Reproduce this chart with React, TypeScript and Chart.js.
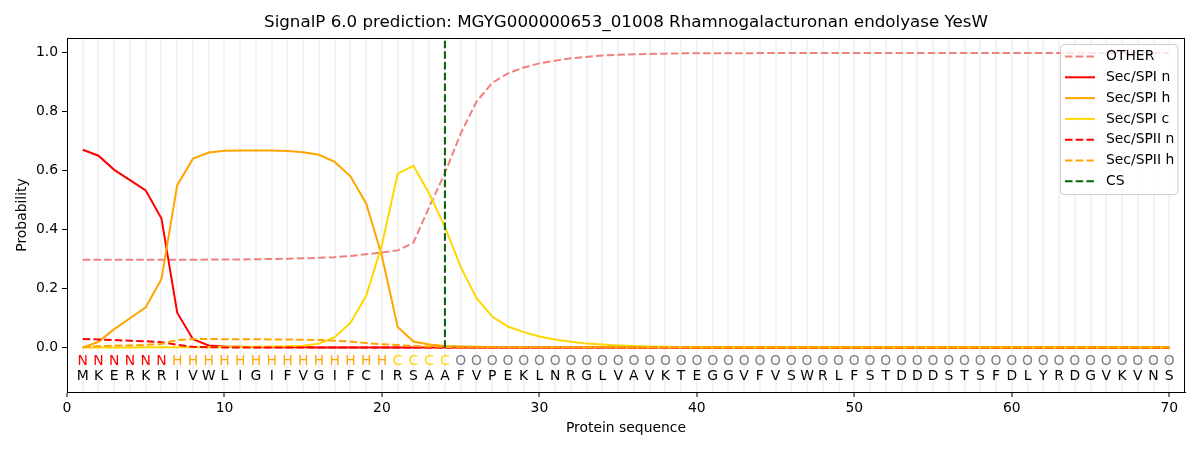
import * as React from 'react';
import { Chart, registerables } from 'chart.js';

Chart.register(...registerables);

// residues and predicted region per position (1..70)
const sequence = 'MKERKRIVWLIGIFVGIFCIRSAAFVPEKLNRGLVAVKTEGGVFVSWRLFSTDDDSTSFDLYRDGVKVNS'.split('');
const regions = 'NNNNNNHHHHHHHHHHHHHHCCCCOOOOOOOOOOOOOOOOOOOOOOOOOOOOOOOOOOOOOOOOOOOOOO'.split('');

const other = [
  0.298, 0.298, 0.298, 0.298, 0.298, 0.298, 0.298, 0.298, 0.299, 0.299,
  0.299, 0.300, 0.301, 0.302, 0.303, 0.305, 0.307, 0.311, 0.317, 0.323,
  0.330, 0.356, 0.477, 0.592, 0.726, 0.834, 0.898, 0.930, 0.950, 0.964,
  0.973, 0.981, 0.986, 0.991, 0.993, 0.995, 0.996, 0.997, 0.998, 0.998,
  0.998, 0.998, 0.998, 0.999, 0.999, 0.999, 0.999, 0.999, 0.999, 0.999,
  0.999, 0.999, 0.999, 0.999, 0.999, 0.999, 0.999, 0.999, 0.999, 0.999,
  0.999, 0.999, 0.999, 0.999, 0.999, 0.999, 0.999, 0.999, 0.999, 0.999,
];
const spiN = [
  0.671, 0.651, 0.603, 0.568, 0.533, 0.438, 0.119, 0.029, 0.008, 0.004,
  0.003, 0.002, 0.002, 0.002, 0.002, 0.001, 0.001, 0.001, 0.001, 0.001,
  0.001, 0.001, 0.001, 0.001, 0.001, 0.001, 0.001, 0.001, 0.001, 0.001,
  0.001, 0.001, 0.001, 0.001, 0.001, 0.001, 0.001, 0.001, 0.001, 0.001,
  0.001, 0.001, 0.001, 0.001, 0.001, 0.001, 0.001, 0.001, 0.001, 0.001,
  0.001, 0.001, 0.001, 0.001, 0.001, 0.001, 0.001, 0.001, 0.001, 0.001,
  0.001, 0.001, 0.001, 0.001, 0.001, 0.001, 0.001, 0.001, 0.001, 0.001,
];
const spiH = [
  0.001, 0.020, 0.063, 0.100, 0.137, 0.233, 0.551, 0.641, 0.662, 0.668,
  0.669, 0.669, 0.669, 0.667, 0.663, 0.654, 0.630, 0.581, 0.489, 0.311,
  0.070, 0.021, 0.011, 0.006, 0.004, 0.003, 0.002, 0.002, 0.002, 0.002,
  0.002, 0.002, 0.002, 0.002, 0.002, 0.002, 0.002, 0.002, 0.002, 0.002,
  0.002, 0.002, 0.002, 0.002, 0.002, 0.002, 0.002, 0.002, 0.002, 0.002,
  0.002, 0.002, 0.002, 0.002, 0.002, 0.002, 0.002, 0.002, 0.002, 0.002,
  0.002, 0.002, 0.002, 0.002, 0.002, 0.002, 0.002, 0.002, 0.002, 0.002,
];
const spiC = [
  0.001, 0.001, 0.001, 0.001, 0.002, 0.002, 0.002, 0.002, 0.002, 0.003,
  0.003, 0.003, 0.004, 0.005, 0.007, 0.014, 0.036, 0.084, 0.176, 0.348,
  0.590, 0.617, 0.523, 0.410, 0.274, 0.169, 0.106, 0.072, 0.053, 0.038,
  0.028, 0.020, 0.014, 0.011, 0.008, 0.006, 0.004, 0.003, 0.002, 0.002,
  0.001, 0.001, 0.001, 0.001, 0.001, 0.001, 0.001, 0.001, 0.001, 0.001,
  0.001, 0.001, 0.001, 0.001, 0.001, 0.001, 0.001, 0.001, 0.001, 0.001,
  0.001, 0.001, 0.001, 0.001, 0.001, 0.001, 0.001, 0.001, 0.001, 0.001,
];
const spiiN = [
  0.030, 0.028, 0.026, 0.024, 0.022, 0.019, 0.010, 0.003, 0.002, 0.001,
  0.001, 0.001, 0.001, 0.001, 0.001, 0.001, 0.001, 0.001, 0.001, 0.001,
  0.001, 0.001, 0.001, 0.001, 0.001, 0.001, 0.001, 0.001, 0.001, 0.001,
  0.001, 0.001, 0.001, 0.001, 0.001, 0.001, 0.001, 0.001, 0.001, 0.001,
  0.001, 0.001, 0.001, 0.001, 0.001, 0.001, 0.001, 0.001, 0.001, 0.001,
  0.001, 0.001, 0.001, 0.001, 0.001, 0.001, 0.001, 0.001, 0.001, 0.001,
  0.001, 0.001, 0.001, 0.001, 0.001, 0.001, 0.001, 0.001, 0.001, 0.001,
];
const spiiH = [
  0.002, 0.005, 0.007, 0.008, 0.010, 0.013, 0.026, 0.030, 0.030, 0.029,
  0.029, 0.029, 0.028, 0.028, 0.027, 0.026, 0.024, 0.021, 0.016, 0.012,
  0.009, 0.006, 0.004, 0.003, 0.002, 0.002, 0.002, 0.002, 0.002, 0.002,
  0.002, 0.002, 0.002, 0.002, 0.002, 0.002, 0.002, 0.002, 0.002, 0.002,
  0.002, 0.002, 0.002, 0.002, 0.002, 0.002, 0.002, 0.002, 0.002, 0.002,
  0.002, 0.002, 0.002, 0.002, 0.002, 0.002, 0.002, 0.002, 0.002, 0.002,
  0.002, 0.002, 0.002, 0.002, 0.002, 0.002, 0.002, 0.002, 0.002, 0.002,
];
const csPosition = 24;
const yTicks = [0, 0.2, 0.4, 0.6, 0.8, 1.0];

const TITLE = 'SignalP 6.0 prediction: MGYG000000653_01008 Rhamnogalacturonan endolyase YesW';
const FONT = '"DejaVu Sans", sans-serif';
const DASH = [7.5, 3.2];
const regionColor: Record<string, string> = { N: '#ff0000', H: '#ffa500', C: '#ffd700', O: '#808080' };

const series = [
  { label: 'OTHER', data: other, color: '#f08080', dash: DASH },
  { label: 'Sec/SPI n', data: spiN, color: '#ff0000', dash: [] },
  { label: 'Sec/SPI h', data: spiH, color: '#ffa500', dash: [] },
  { label: 'Sec/SPI c', data: spiC, color: '#ffd700', dash: [] },
  { label: 'Sec/SPII n', data: spiiN, color: '#ff0000', dash: DASH },
  { label: 'Sec/SPII h', data: spiiH, color: '#ffa500', dash: DASH },
];

const toPoints = (vals: number[]) => vals.map((y, i) => ({ x: i + 1, y }));

// title, frame, residue labels, axis titles and the legend
const decorations = {
  id: 'decorations',
  afterDraw(chart: any) {
    const { ctx, chartArea: a, scales } = chart;
    const xs = scales.x;
    const ys = scales.y;
    ctx.save();
    ctx.strokeStyle = '#000';
    ctx.lineWidth = 1;
    ctx.setLineDash([]);
    ctx.strokeRect(a.left + 0.5, a.top + 0.5, a.right - a.left - 1, a.bottom - a.top);

    ctx.fillStyle = '#000';
    ctx.textAlign = 'center';
    ctx.textBaseline = 'middle';
    ctx.font = `16.7px ${FONT}`;
    ctx.fillText(TITLE, (a.left + a.right) / 2, 23);
    ctx.font = `13.9px ${FONT}`;
    ctx.fillText('Protein sequence', (a.left + a.right) / 2, 428);
    ctx.save();
    ctx.translate(22, (a.top + a.bottom) / 2);
    ctx.rotate(-Math.PI / 2);
    ctx.fillText('Probability', 0, 0);
    ctx.restore();

    sequence.forEach((aa, i) => {
      const px = xs.getPixelForValue(i + 1);
      ctx.fillStyle = regionColor[regions[i]];
      ctx.fillText(regions[i], px, ys.getPixelForValue(-0.046));
      ctx.fillStyle = '#000';
      ctx.fillText(aa, px, ys.getPixelForValue(-0.097));
    });

    // legend box
    const items = [...series, { label: 'CS', color: '#006400', dash: DASH }];
    const bx = 1060.5, by = 44.5, bw = 117.5, bh = 150, r = 4;
    ctx.beginPath();
    ctx.moveTo(bx + r, by);
    ctx.arcTo(bx + bw, by, bx + bw, by + bh, r);
    ctx.arcTo(bx + bw, by + bh, bx, by + bh, r);
    ctx.arcTo(bx, by + bh, bx, by, r);
    ctx.arcTo(bx, by, bx + bw, by, r);
    ctx.closePath();
    ctx.fillStyle = 'rgba(255,255,255,0.8)';
    ctx.fill();
    ctx.strokeStyle = '#cccccc';
    ctx.stroke();
    ctx.textAlign = 'left';
    items.forEach((it, i) => {
      const ry = 56.5 + i * 20.8;
      ctx.strokeStyle = it.color;
      ctx.lineWidth = 2;
      ctx.setLineDash(it.dash);
      ctx.beginPath();
      ctx.moveTo(1065, ry);
      ctx.lineTo(1095, ry);
      ctx.stroke();
      ctx.setLineDash([]);
      ctx.fillStyle = '#000';
      ctx.fillText(it.label, 1106, ry);
    });
    ctx.restore();
  },
};

const App = () => {
  const canvasRef = React.useRef<HTMLCanvasElement>(null);

  React.useEffect(() => {
    if (!canvasRef.current) return;
    const datasets: any[] = series.map((s, i) => ({
      label: s.label,
      data: toPoints(s.data),
      borderColor: s.color,
      borderDash: s.dash,
      borderWidth: 2,
      pointRadius: 0,
      tension: 0,
      fill: false,
      order: 10 - i,
    }));
    datasets.push({
      label: 'CS',
      data: [{ x: csPosition, y: 0 }, { x: csPosition, y: 1.05 }],
      borderColor: '#006400',
      borderDash: DASH,
      borderWidth: 2,
      pointRadius: 0,
      fill: false,
      order: 0,
    });

    const chart = new Chart(canvasRef.current, {
      type: 'line',
      data: { datasets },
      options: {
        animation: false,
        responsive: true,
        maintainAspectRatio: false,
        layout: { padding: { top: 38, right: 15, left: 0, bottom: 0 } },
        plugins: { legend: { display: false }, tooltip: { enabled: false }, title: { display: false } },
        scales: {
          x: {
            type: 'linear',
            min: 0,
            max: 71,
            afterBuildTicks: (scale: any) => {
              scale.ticks = Array.from({ length: 71 }, (_, i) => ({ value: i }));
            },
            afterFit: (scale: any) => {
              scale.height = 58;
            },
            ticks: {
              autoSkip: false,
              maxRotation: 0,
              padding: 3,
              color: '#000',
              font: { family: FONT, size: 13.9 },
              callback: (v: any) => (Number(v) % 10 === 0 ? String(v) : ''),
            },
            grid: {
              color: (c: any) => (c.tick && c.tick.value > 0 ? '#f3f3f3' : 'rgba(0,0,0,0)'),
              lineWidth: 2,
              tickColor: (c: any) => (c.tick && c.tick.value % 10 === 0 ? '#000' : 'rgba(0,0,0,0)'),
              tickWidth: 1,
              tickLength: 5,
            },
            border: { display: true, color: '#000' },
          },
          y: {
            type: 'linear',
            min: -0.15,
            max: 1.05,
            afterBuildTicks: (scale: any) => {
              scale.ticks = yTicks.map((value) => ({ value }));
            },
            afterFit: (scale: any) => {
              scale.width = 67;
            },
            ticks: {
              padding: 4,
              color: '#000',
              font: { family: FONT, size: 13.9 },
              callback: (v: any) => Number(v).toFixed(1),
            },
            grid: { drawOnChartArea: false, tickColor: '#000', tickLength: 5 },
            border: { display: true, color: '#000' },
          },
        },
      },
      plugins: [decorations],
    });

    return () => chart.destroy();
  }, []);

  return (
    <div style={{ position: 'fixed', left: 0, top: 0, width: 1200, height: 450, background: '#fff' }}>
      <canvas ref={canvasRef}></canvas>
    </div>
  );
};

export default App;
